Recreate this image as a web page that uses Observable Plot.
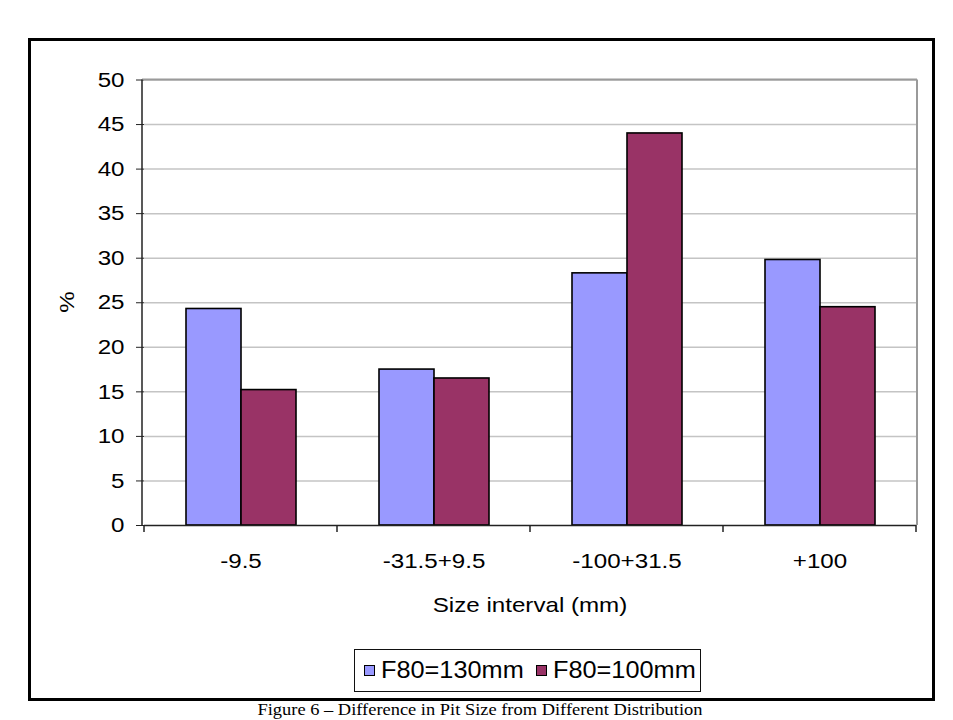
<!DOCTYPE html>
<html>
<head>
<meta charset="utf-8">
<script src="https://cdn.jsdelivr.net/npm/d3@7"></script>
<script src="https://cdn.jsdelivr.net/npm/@observablehq/plot@0.6"></script>
<style>
  body { margin: 0; background: #fff; }
  #wrap { position: relative; width: 953px; height: 720px; overflow: hidden; background: #fff;
          font-family: "Liberation Sans", Arial, sans-serif; color: #000; }
  #chart { position: absolute; left: 0; top: 0; }
  #frame { position: absolute; left: 28px; top: 38px; width: 907px; height: 663px;
           box-sizing: border-box; border: 3px solid #000; pointer-events: none; }
  #ylabel { position: absolute; left: 66px; top: 302px; font-size: 21px; line-height: 1;
            transform: translate(-50%, -50%) rotate(-90deg) scaleX(1.15); white-space: nowrap; }
  #xlabel { position: absolute; left: 529.5px; top: 594px; font-size: 21px; line-height: 1;
            transform: translateX(-50%) scaleX(1.15); white-space: nowrap; }
  #legend { position: absolute; left: 354px; top: 649px; width: 347px; height: 43px;
            box-sizing: border-box; border: 1.5px solid #111; background: #fff;
            display: flex; align-items: center; padding-left: 9px; font-size: 23px; }
  .sw { width: 11px; height: 11px; box-sizing: border-box; border: 1.5px solid #000; flex: none; }
  .lt { display: inline-block; width: 143px; flex: none; line-height: 1; }
  .lt span { display: inline-block; transform: scaleX(1.1); transform-origin: left center; white-space: nowrap; }
  #caption { position: absolute; left: 480px; top: 701px; font-family: "Liberation Serif", "Times New Roman", serif;
             font-size: 17px; line-height: 1; white-space: nowrap; transform-origin: center top; }
</style>
</head>
<body>
<div id="wrap">
  <div id="chart"></div>
  <div id="ylabel">%</div>
  <div id="xlabel">Size interval (mm)</div>
  <div id="legend"></div>
  <div id="frame"></div>
  <div id="caption">Figure 6 – Difference in Pit Size from Different Distribution</div>
</div>
<script>
// ---- data ----
const categories = ["-9.5", "-31.5+9.5", "-100+31.5", "+100"];
const seriesNames = ["F80=130mm", "F80=100mm"];
const f80_130 = [24.3, 17.5, 28.3, 29.8];
const f80_100 = [15.2, 16.5, 44.0, 24.5];
const seriesColors = ["#9999FF", "#993366"];
const yTicks = [0, 5, 10, 15, 20, 25, 30, 35, 40, 45, 50];

const seriesValues = [f80_130, f80_100];
const rows = [];
categories.forEach((c, i) => {
  seriesNames.forEach((s, j) => rows.push({category: c, series: s, value: seriesValues[j][i]}));
});

const chart = Plot.plot({
  width: 953,
  height: 720,
  marginLeft: 142,
  marginRight: 36,
  marginTop: 79.5,
  marginBottom: 195,
  style: {fontFamily: "Liberation Sans, Arial, sans-serif", fontSize: "21px", background: "transparent", color: "#000", overflow: "visible"},
  fx: {domain: categories, padding: 0},
  x: {domain: seriesNames, paddingInner: 0, paddingOuter: 0.75, axis: null},
  y: {domain: [0, 50]},
  color: {domain: seriesNames, range: seriesColors},
  marks: [
    Plot.gridY(yTicks.filter(d => d > 0), {stroke: "#c4c4c4", strokeOpacity: 1, strokeWidth: 1.5}),
    Plot.barY(rows, {fx: "category", x: "series", y: "value", fill: "series", stroke: "#000", strokeWidth: 1.6, inset: 0}),
    Plot.ruleY([0], {stroke: "#222", strokeWidth: 1.5}),
    Plot.axisY({ticks: yTicks, tickSize: 8, tickPadding: 12, label: null, fontSize: 21, stroke: "#222"}),
    Plot.axisFx({anchor: "bottom", tickSize: 0, tickPadding: 28, label: null, fontSize: 21})
  ]
});
document.getElementById("chart").appendChild(chart);

// stretch the SVG texts horizontally (reference glyphs are wide)
chart.querySelectorAll("text").forEach(t => {
  const bb = t.getBBox();
  const anchor = getComputedStyle(t).textAnchor;
  const cx = anchor === "end" ? bb.x + bb.width : anchor === "middle" ? bb.x + bb.width / 2 : bb.x;
  const old = t.getAttribute("transform") || "";
  t.setAttribute("transform", `${old} translate(${cx},0) scale(1.15,1) translate(${-cx},0)`);
});

// axis lines, plot-area border and category boundary ticks from Plot's scales
const fx = chart.scale("fx");
const ys = chart.scale("y");
const svg = d3.select(chart);
const x0 = fx.range[0], x1 = fx.range[1];
const yTop = ys.apply(50), yBot = ys.apply(0);
const boundaries = categories.map(c => fx.apply(c)).concat([fx.apply(categories[categories.length - 1]) + fx.bandwidth]);
const g = svg.append("g");
g.append("line").attr("x1", x1).attr("x2", x1).attr("y1", yTop).attr("y2", yBot)
  .attr("stroke", "#9a9a9a").attr("stroke-width", 2);
g.append("line").attr("x1", x0).attr("x2", x1).attr("y1", yTop).attr("y2", yTop)
  .attr("stroke", "#9a9a9a").attr("stroke-width", 2);
g.append("line").attr("x1", x0).attr("x2", x0).attr("y1", yTop).attr("y2", yBot)
  .attr("stroke", "#222").attr("stroke-width", 1.5);
g.selectAll("line.tk").data(boundaries).join("line").attr("class", "tk")
  .attr("x1", d => d).attr("x2", d => d).attr("y1", yBot).attr("y2", yBot + 7)
  .attr("stroke", "#222").attr("stroke-width", 1.5);

// legend
const legend = d3.select("#legend");
seriesNames.forEach((s, i) => {
  legend.append("div").attr("class", "sw")
    .style("background", seriesColors[i])
    .style("margin-left", i === 0 ? "0px" : "12px")
    .style("margin-right", "6px");
  legend.append("div").attr("class", "lt").append("span").text(s);
});

// caption fitted to the reference width
const cap = document.getElementById("caption");
const w = cap.getBoundingClientRect().width;
cap.style.transform = `translateX(-50%) scaleX(${445 / w})`;
</script>
</body>
</html>
